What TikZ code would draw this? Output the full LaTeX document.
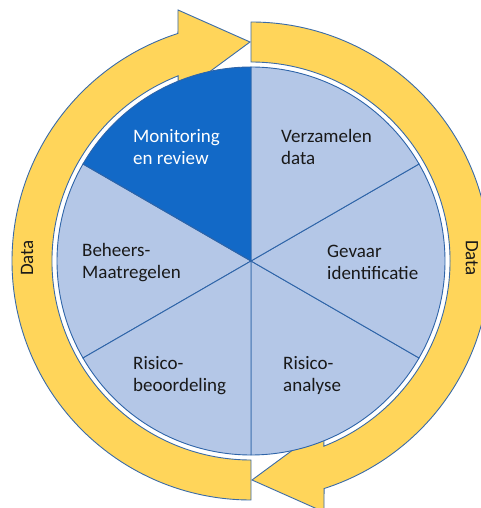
\documentclass[tikz,border=0pt]{standalone}
\usepackage{fontspec}
\setmainfont{Carlito}
\usetikzlibrary{calc}
\definecolor{arrowfill}{HTML}{FFD55A}
\definecolor{arrowline}{HTML}{3A6BA8}
\definecolor{pielight}{HTML}{B4C7E7}
\definecolor{piedark}{HTML}{1269C7}
\definecolor{pieline}{HTML}{2E64A8}
\begin{document}
\begin{tikzpicture}[x=1pt,y=1pt,
  arrowband/.style={fill=arrowfill,draw=arrowline,line width=0.9pt,line join=miter},
  sector/.style={fill=pielight,draw=pieline,line width=0.9pt},
  darksector/.style={fill=piedark,draw=pieline,line width=0.9pt},
  lbl/.style={inner sep=0pt,anchor=base west,align=left,font=\fontsize{19}{22}\selectfont,text=black!90},
  datalbl/.style={inner sep=0pt,font=\fontsize{19}{22}\selectfont,text=black!90}]
\useasboundingbox (0,0) rectangle (480,508);
\coordinate (C) at (251,247);
% yellow circular arrows
\draw[arrowband] ($(C)+(270:199)$) -- ($(C)+(270:239)$) arc[start angle=270,end angle=107.8,radius=239]
  -- (178,498) -- (250,466) -- (178,413) -- ($(C)+(111.5:199)$) arc[start angle=111.5,end angle=270,radius=199] -- cycle;
\begin{scope}[rotate around={180:(C)}]
\draw[arrowband] ($(C)+(270:199)$) -- ($(C)+(270:239)$) arc[start angle=270,end angle=107.8,radius=239]
  -- (178,498) -- (250,466) -- (178,413) -- ($(C)+(111.5:199)$) arc[start angle=111.5,end angle=270,radius=199] -- cycle;
\end{scope}
% pie sectors
\foreach \a in {-90,-30,30,150,210}{
  \draw[sector] (C) -- ($(C)+(\a:194)$) arc[start angle=\a,end angle=\a+60,radius=194] -- cycle;
}
\draw[darksector] (C) -- ($(C)+(90:194)$) arc[start angle=90,end angle=150,radius=194] -- cycle;
% labels (anchor at baseline of the second line)
\node[lbl,text=white] (mon) at (133,343) {Monitoring\\en review};
\node[lbl] (ver) at (281,343) {Verzamelen\\data};
\node[lbl] (gev) at (327,228) {Gevaar\\identificatie};
\node[lbl] (beh) at (82,229) {Beheers-\\Maatregelen};
\node[lbl] (rb) at (133,116) {Risico-\\beoordeling};
\node[lbl] (ra) at (283,116) {Risico-\\analyse};
\node[datalbl,rotate=90] (d1) at (27,250) {Data};
\node[datalbl,rotate=-90] (d2) at (472,250) {Data};
\end{tikzpicture}
\end{document}
